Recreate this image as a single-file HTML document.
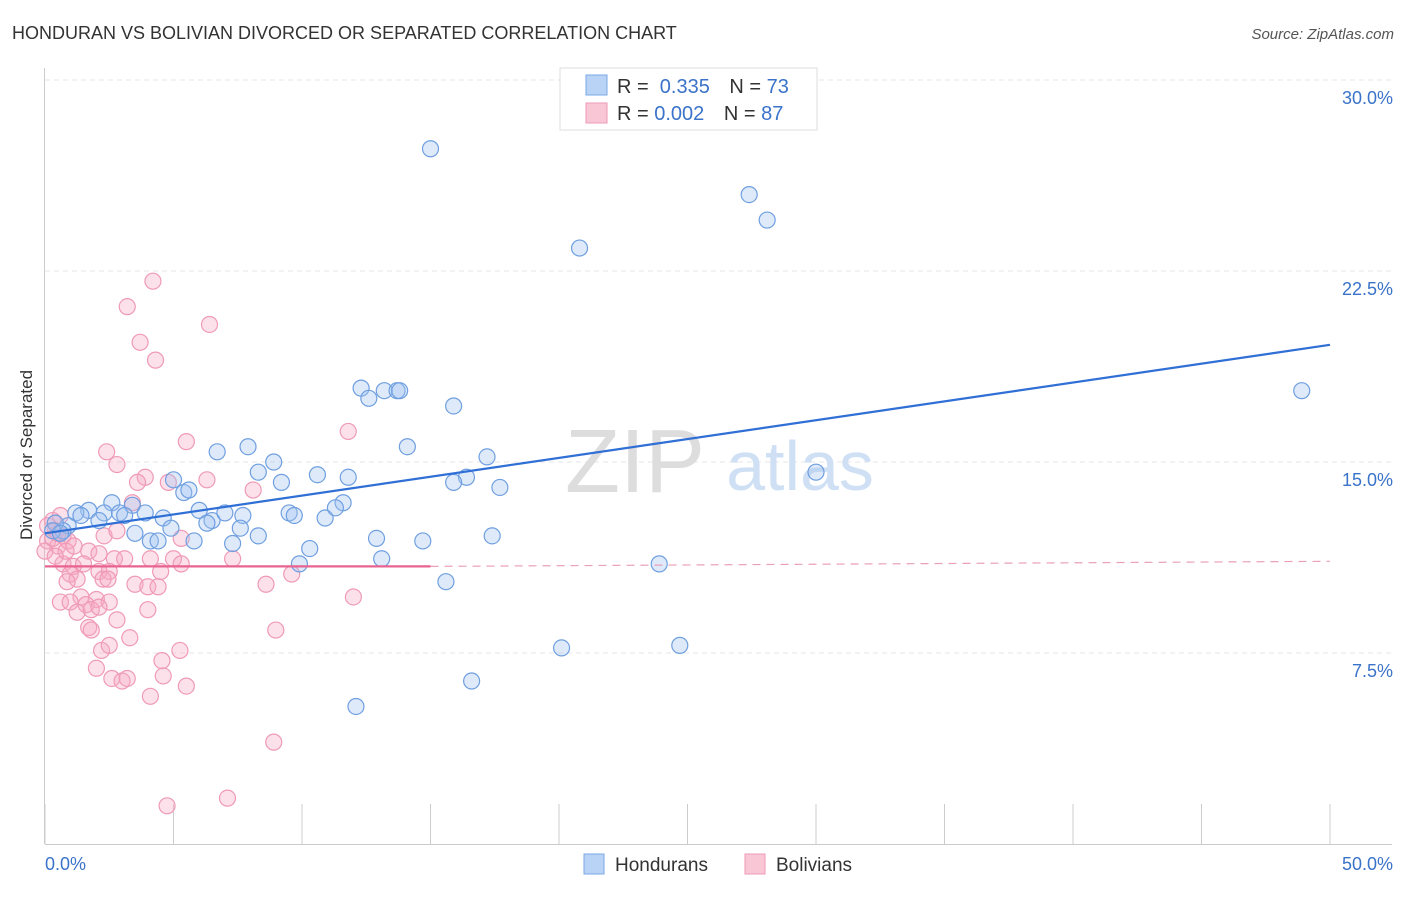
<!DOCTYPE html>
<html><head><meta charset="utf-8"><style>
body{margin:0;background:#fff;font-family:"Liberation Sans",sans-serif}
svg text{font-family:"Liberation Sans",sans-serif}
</style></head><body>
<svg width="1406" height="892" id="chart">
<text x="12" y="39" font-size="18" fill="#333">HONDURAN VS BOLIVIAN DIVORCED OR SEPARATED CORRELATION CHART</text>
<text x="1394" y="39" font-size="15" fill="#555" font-style="italic" text-anchor="end">Source: ZipAtlas.com</text>
<text x="32" y="455" font-size="17" fill="#333" text-anchor="middle" transform="rotate(-90 32 455)">Divorced or Separated</text>
<g id="grid"></g>
<text x="635" y="492" font-size="90" fill="#ddd" font-family="Liberation Serif" text-anchor="middle">ZIP</text>
<text x="800" y="490" font-size="70" fill="#cfe0f5" text-anchor="middle">atlas</text>
<g id="marks"></g>
<g>
<rect x="560" y="68" width="257" height="62" fill="#fff" stroke="#ddd"/>
<rect x="586" y="75" width="21" height="20" fill="#b8d3f5" stroke="#7aa8e8"/>
<rect x="586" y="103" width="21" height="20" fill="#f9c6d6" stroke="#ee9ab5"/>
<text x="617" y="93" font-size="20" fill="#333">R = <tspan fill="#3a73c9">&#160;0.335</tspan>   <tspan dx="14">N = </tspan><tspan fill="#3a73c9">73</tspan></text>
<text x="617" y="120" font-size="20" fill="#333">R = <tspan fill="#3a73c9">0.002</tspan>   <tspan dx="14">N = </tspan><tspan fill="#3a73c9">87</tspan></text>
</g>
<g>
<rect x="584" y="854" width="20" height="20" fill="#b8d3f5" stroke="#7aa8e8"/>
<text x="615" y="871" font-size="19" fill="#333">Hondurans</text>
<rect x="745" y="854" width="20" height="20" fill="#f9c6d6" stroke="#ee9ab5"/>
<text x="776" y="871" font-size="19" fill="#333">Bolivians</text>
</g>
</svg>
<script>
const yTicks=[7.5,15,22.5,30];
const yTickLabels=["7.5%","15.0%","22.5%","30.0%"];
const xTicks=[0,5,10,15,20,25,30,35,40,45,50];
const blueX=[15.0,27.4,28.1,20.8,48.9,12.3,12.6,13.2,13.7,13.8,15.9,14.1,7.9,6.7,17.2,8.9,8.3,10.6,11.8,16.4,15.9,17.7,30.0,5.0,5.4,5.6,11.6,9.2,2.6,1.7,2.3,2.9,3.4,3.1,3.9,4.6,6.0,6.5,6.3,7.0,7.7,7.6,8.3,7.3,5.8,4.9,4.1,4.4,3.5,9.5,9.7,10.9,11.3,2.1,1.2,1.4,0.9,0.7,0.4,0.3,12.9,14.7,17.4,10.3,13.1,9.9,23.9,15.6,20.1,24.7,16.6,12.1,0.6];
const blueY=[27.3,25.5,24.5,23.4,17.8,17.9,17.5,17.8,17.8,17.8,17.2,15.6,15.6,15.4,15.2,15.0,14.6,14.5,14.4,14.4,14.2,14.0,14.6,14.3,13.8,13.9,13.4,14.2,13.4,13.1,13.0,13.0,13.3,12.9,13.0,12.8,13.1,12.7,12.6,13.0,12.9,12.4,12.1,11.8,11.9,12.4,11.9,11.9,12.2,13.0,12.9,12.8,13.2,12.7,13.0,12.9,12.5,12.3,12.6,12.3,12.0,11.9,12.1,11.6,11.2,11.0,11.0,10.3,7.7,7.8,6.4,5.4,12.2];
const pinkX=[4.2,3.2,6.4,3.7,4.3,11.8,5.5,2.4,2.8,3.9,3.6,4.8,6.3,8.1,3.4,0.6,0.3,0.4,0.7,0.1,0.5,0.9,1.7,2.1,2.7,3.1,4.1,5.0,5.3,7.3,2.3,2.8,0.7,1.1,1.5,2.1,2.5,0.98,1.25,0.86,2.26,2.45,4.5,5.3,8.6,9.6,12.0,3.5,4.0,4.4,1.4,2.0,0.6,0.98,1.6,2.5,4.0,1.25,1.8,2.1,2.8,1.7,1.8,3.3,8.98,2.2,2.5,5.25,4.55,2.0,2.6,3.0,3.2,4.6,5.5,4.1,8.9,4.75,7.1,0.3,0.5,0,0.1,0.82,1.13,0.4];
const pinkY=[22.1,21.1,20.4,19.7,19.0,16.2,15.8,15.4,14.9,14.4,14.2,14.2,14.3,13.9,13.4,12.9,12.7,12.3,12.1,11.9,11.7,11.9,11.5,11.4,11.2,11.2,11.2,11.2,12.0,11.2,12.1,12.3,11.0,10.9,11.0,10.7,10.7,10.6,10.4,10.3,10.4,10.4,10.7,11.0,10.2,10.6,9.7,10.2,10.1,10.1,9.7,9.6,9.5,9.5,9.4,9.5,9.2,9.1,9.2,9.3,8.8,8.5,8.4,8.1,8.4,7.6,7.8,7.6,7.2,6.9,6.5,6.4,6.5,6.6,6.2,5.8,4.0,1.5,1.8,12.0,12.2,11.5,12.5,11.5,11.7,11.3];
const blueTrend=[0,12.2,50,19.6];
const pinkTrend=[0,10.9,15,10.9,50,11.1];
const X=v=>45+v*25.7, Y=v=>844-v*25.467;
const NS="http://www.w3.org/2000/svg";
function mk(t,a,p){const e=document.createElementNS(NS,t);for(const k in a)e.setAttribute(k,a[k]);p.appendChild(e);return e;}
const grid=document.getElementById('grid'), marks=document.getElementById('marks');
yTicks.forEach((t,i)=>{
 const l=mk('line',{x1:45,x2:1392,y1:Y(t),y2:Y(t),stroke:'#e4e4e4','stroke-dasharray':'5,4'},grid);
 
 
 const tx=mk('text',{x:1393,y:Y(t)+24,'font-size':18,fill:'#3a73c9','text-anchor':'end'},grid);
 tx.textContent=yTickLabels[i];
 
 
});
const ax=mk('line',{x1:45,x2:1392,y1:844.5,y2:844.5,stroke:'#ccc'},grid);


const ay=mk('line',{x1:44.5,x2:44.5,y1:68,y2:844,stroke:'#ccc'},grid);


xTicks.forEach(t=>{const l=mk('line',{x1:X(t),x2:X(t),y1:804,y2:844,stroke:'#ccc'},grid);
 
 });
let a=mk('text',{x:45,y:870,'font-size':18,fill:'#3a73c9'},grid);a.textContent='0.0%';


a=mk('text',{x:1393,y:870,'font-size':18,fill:'#3a73c9','text-anchor':'end'},grid);a.textContent='50.0%';


pinkX.forEach((v,i)=>{const c=mk('circle',{cx:X(v),cy:Y(pinkY[i]),r:8,fill:'rgba(246,170,196,0.35)',stroke:'#ef9ab6','stroke-width':1.2},marks);
 
 });
blueX.forEach((v,i)=>{const c=mk('circle',{cx:X(v),cy:Y(blueY[i]),r:8,fill:'rgba(160,196,240,0.35)',stroke:'#6f9fe0','stroke-width':1.2},marks);
 
 });
let tl=mk('line',{x1:X(blueTrend[0]),y1:Y(blueTrend[1]),x2:X(blueTrend[2]),y2:Y(blueTrend[3]),stroke:'#2f6fd6','stroke-width':2.2},marks);


tl=mk('line',{x1:X(pinkTrend[0]),y1:Y(pinkTrend[1]),x2:X(pinkTrend[2]),y2:Y(pinkTrend[3]),stroke:'#e8638f','stroke-width':2.2},marks);


tl=mk('line',{x1:X(pinkTrend[2]),y1:Y(pinkTrend[3]),x2:X(pinkTrend[4]),y2:Y(pinkTrend[5]),stroke:'#eaa0b8','stroke-width':1.2,'stroke-dasharray':'8,6'},marks);


</script>
</body></html>
